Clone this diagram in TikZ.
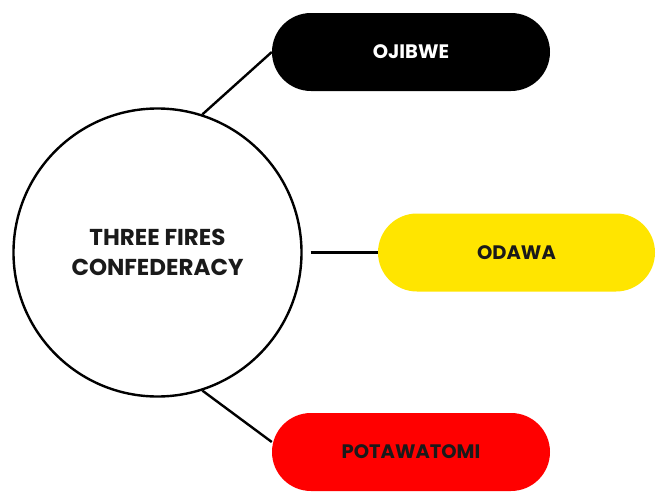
\documentclass[tikz,border=0pt]{standalone}
\usepackage{fontspec}
\setmainfont{Poppins}
\definecolor{pillyellow}{HTML}{FFE500}
\definecolor{pillred}{HTML}{FF0000}
\definecolor{txtdark}{HTML}{1A1A1A}
\begin{document}
\begin{tikzpicture}[x=1pt,y=-1pt,
  pill/.style={rounded corners=39pt, minimum width=278pt, minimum height=78pt, inner sep=0pt, font=\fontsize{19.5}{22}\selectfont\bfseries},
  hub/.style={circle, draw=black, line width=2.4pt, minimum size=288pt, inner sep=0pt, align=center, font=\fontsize{23}{30}\selectfont\bfseries, text=txtdark},
  link/.style={draw=black, line width=2.4pt}]
\useasboundingbox (0,0) rectangle (657,493);
\node[hub] (c) at (157.5,252.5) {THREE FIRES\\CONFEDERACY};
\node[pill, fill=black, text=white] (oj) at (411,52) {OJIBWE};
\node[pill, fill=pillyellow, text=txtdark, minimum width=277pt] (od) at (516.5,252.5) {ODAWA};
\node[pill, fill=pillred, text=txtdark] (po) at (411,452) {POTAWATOMI};
\draw[link] (c.72) -- (oj.west);
\draw[link, shorten <=8pt] (c.east) -- (od.west);
\draw[link] (c.-72) -- ([yshift=10pt]po.west);
\end{tikzpicture}
\end{document}
